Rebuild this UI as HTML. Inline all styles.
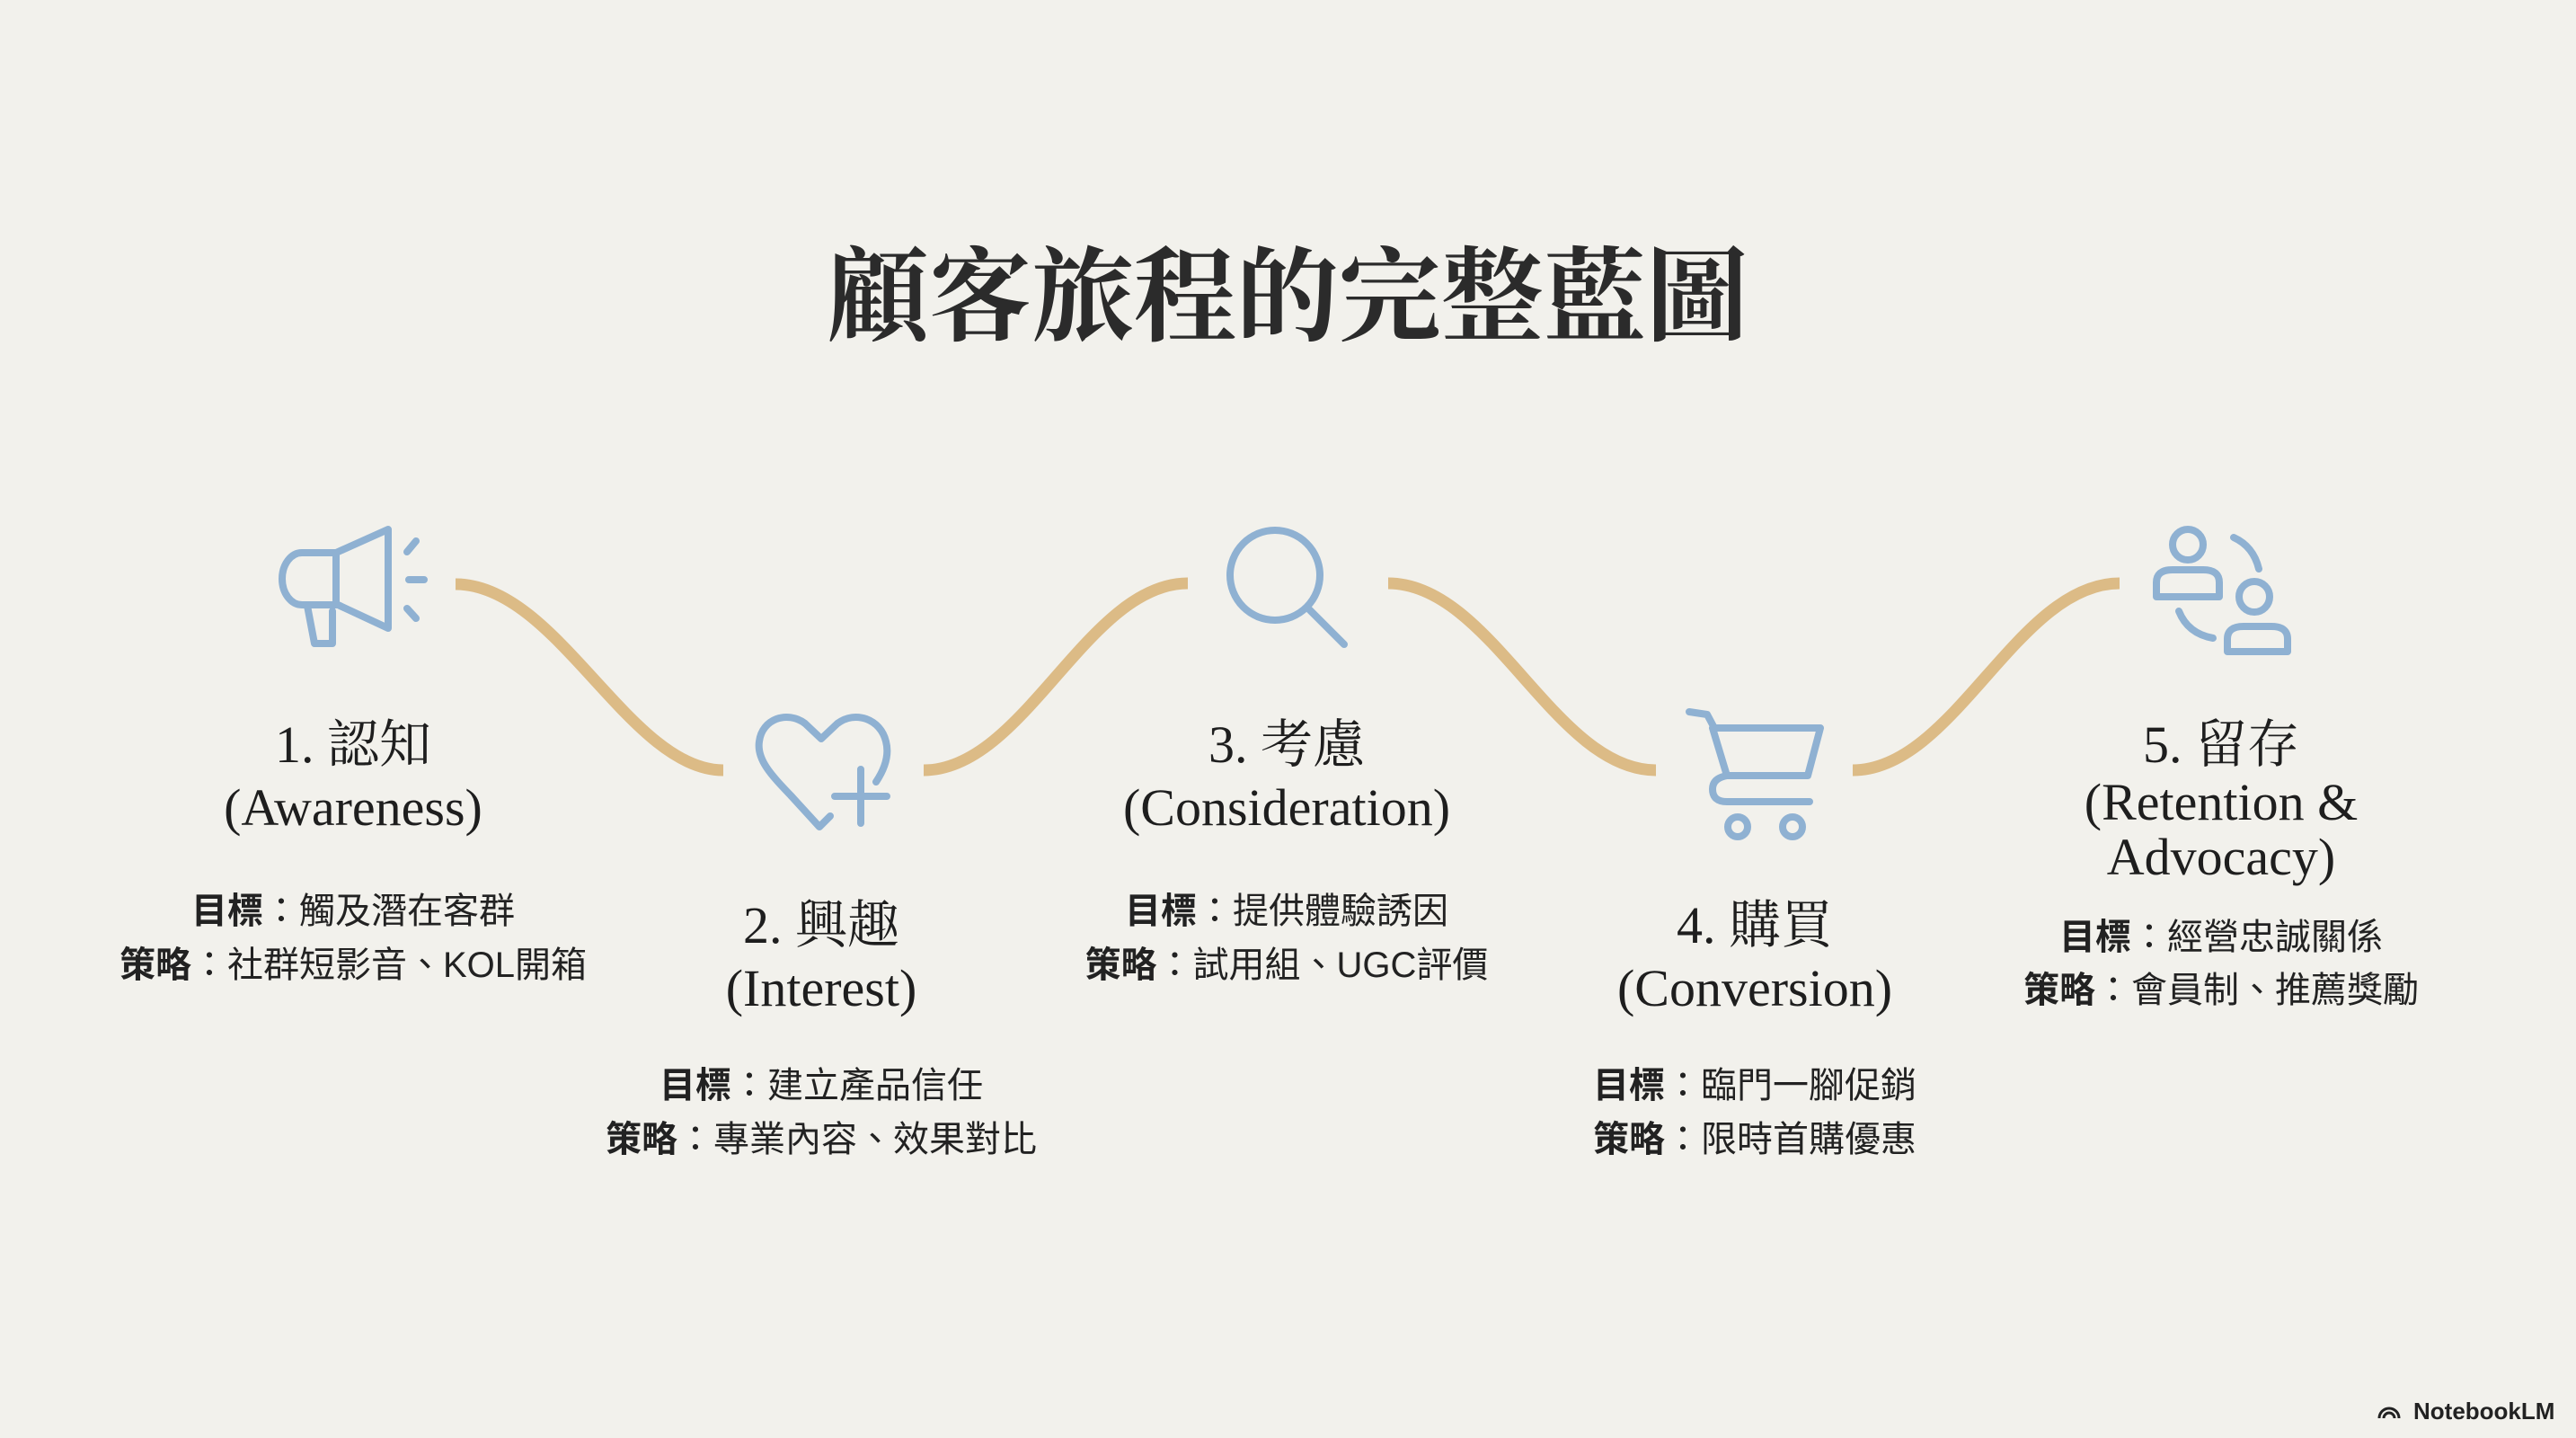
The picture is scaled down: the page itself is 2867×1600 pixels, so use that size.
<!DOCTYPE html>
<html><head><meta charset="utf-8"><style>
html,body{margin:0;padding:0;background:#f2f1ec;}
svg{display:block}
.t{font-family:"Liberation Serif","Noto Serif CJK SC",serif;fill:#1e1e1e;text-anchor:middle}
.b{font-family:"Liberation Sans","Noto Sans CJK TC",sans-serif;fill:#222;text-anchor:middle;font-size:40px}
.ic{fill:none;stroke:#8fb1d2;stroke-width:8;stroke-linecap:round;stroke-linejoin:round}
.cv{fill:none;stroke:#dcbb86;stroke-width:13}
</style></head><body>
<svg width="2867" height="1600" viewBox="0 0 2867 1600">
<rect width="2867" height="1600" fill="#f2f1ec"/>
<text x="1433" y="370" class="t" style="font-size:114px;font-weight:bold;fill:#2b2b2b">顧客旅程的完整藍圖</text>

<!-- curves -->
<path class="cv" d="M507,650 C620,650 700,857 805,857"/>
<path class="cv" d="M1028,857 C1140,857 1210,649 1322,649"/>
<path class="cv" d="M1545,649 C1660,649 1730,857 1843,857"/>
<path class="cv" d="M2062,857 C2175,857 2245,649 2359,649"/>

<!-- megaphone -->
<g class="ic">
<path d="M374,615 L432,589 L432,699 L374,672"/>
<path d="M374,615 H336 a22,29 0 0 0 -22,29 a22,29 0 0 0 22,29 H374 Z"/>
<path d="M342,674 L350,716 L370,716 L370,680"/>
<path d="M453,614 L463,602 M455,645 H472 M453,677 L463,688"/>
</g>
<!-- heart -->
<g class="ic">
<path d="M975,870 C985,855 990,840 986,825 C980,800 952,790 932,805 L914,822 L896,805 C876,790 848,800 845,825 C842,845 858,862 880,885 L912,920 L924,908"/>
<path d="M958,856 V916 M929,886 H987"/>
</g>
<!-- search -->
<g class="ic">
<circle cx="1419" cy="640" r="50"/>
<path d="M1455,676 L1496,717"/>
</g>
<!-- cart -->
<g class="ic">
<path d="M1880,792 L1900,795 L1908,810 H2026 L2012,863 H1922 L1906,810"/>
<path d="M1922,863 Q1906,866 1906,878 Q1906,892 1922,892 H2014"/>
<circle cx="1934" cy="920" r="11"/>
<circle cx="1995" cy="920" r="11"/>
</g>
<!-- people -->
<g class="ic">
<circle cx="2435" cy="606" r="17"/>
<path d="M2400,664 V648 Q2400,634 2418,634 H2452 Q2470,634 2470,648 V664 Z"/>
<circle cx="2509" cy="664" r="17"/>
<path d="M2479,725 V711 Q2479,697 2497,697 H2528 Q2546,697 2546,711 V725 Z"/>
<path d="M2486,598 Q2508,608 2514,633"/>
<path d="M2425,680 Q2435,705 2463,710"/>
</g>

<!-- labels -->
<g class="t" style="font-size:58px">
<text x="393" y="848">1. 認知</text>
<text x="393" y="918">(Awareness)</text>
<text x="914" y="1049">2. 興趣</text>
<text x="914" y="1119">(Interest)</text>
<text x="1432" y="848">3. 考慮</text>
<text x="1432" y="918">(Consideration)</text>
<text x="1953" y="1049">4. 購買</text>
<text x="1953" y="1119">(Conversion)</text>
<text x="2472" y="848">5. 留存</text>
<text x="2472" y="912">(Retention &amp;</text>
<text x="2472" y="973">Advocacy)</text>
</g>

<g class="b">
<text x="393" y="1027"><tspan font-weight="bold">目標</tspan>：觸及潛在客群</text>
<text x="393" y="1087"><tspan font-weight="bold">策略</tspan>：社群短影音、KOL開箱</text>
<text x="914" y="1221"><tspan font-weight="bold">目標</tspan>：建立產品信任</text>
<text x="914" y="1281"><tspan font-weight="bold">策略</tspan>：專業內容、效果對比</text>
<text x="1432" y="1027"><tspan font-weight="bold">目標</tspan>：提供體驗誘因</text>
<text x="1432" y="1087"><tspan font-weight="bold">策略</tspan>：試用組、UGC評價</text>
<text x="1953" y="1221"><tspan font-weight="bold">目標</tspan>：臨門一腳促銷</text>
<text x="1953" y="1281"><tspan font-weight="bold">策略</tspan>：限時首購優惠</text>
<text x="2472" y="1056"><tspan font-weight="bold">目標</tspan>：經營忠誠關係</text>
<text x="2472" y="1115"><tspan font-weight="bold">策略</tspan>：會員制、推薦獎勵</text>
</g>

<g>
<path d="M2648,1578 a11,11 0 0 1 22,0 M2653,1578 a6,6 0 0 1 12,0" fill="none" stroke="#222" stroke-width="3"/>
<text x="2686" y="1579" style="font-family:'Liberation Sans',sans-serif;font-size:26px;font-weight:bold;fill:#222">NotebookLM</text>
</g>
</svg>
</body></html>
